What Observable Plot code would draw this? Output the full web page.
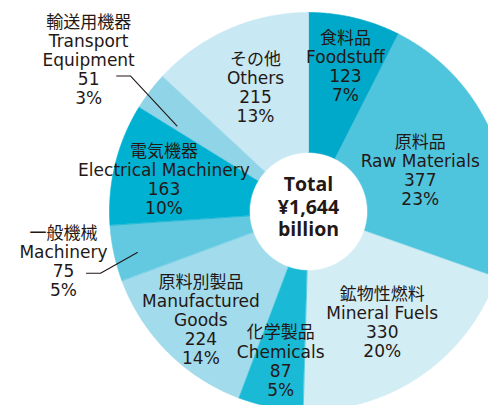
<!DOCTYPE html>
<html>
<head>
<meta charset="utf-8">
<script src="https://cdn.jsdelivr.net/npm/d3@7"></script>
<script src="https://cdn.jsdelivr.net/npm/@observablehq/plot@0.6"></script>
<style>
  html, body { margin: 0; padding: 0; background: #fff; }
  #chart svg { display: block; overflow: hidden; }
</style>
</head>
<body>
<div id="chart"></div>
<script>
// ---- data ----
const categoriesJa = ["食料品", "原料品", "鉱物性燃料", "化学製品", "原料別製品", "一般機械", "電気機器", "輸送用機器", "その他"];
const categoriesEn = ["Foodstuff", "Raw Materials", "Mineral Fuels", "Chemicals", "Manufactured\nGoods", "Machinery", "Electrical Machinery", "Transport\nEquipment", "Others"];
const values = [123, 377, 330, 87, 224, 75, 163, 51, 215];
const percents = [7, 23, 20, 5, 14, 5, 10, 3, 13];
const totalLines = ["Total", "¥1,644", "billion"];

// ---- style / layout ----
const colors = ["#00a9c9", "#4fc5dd", "#d3edf5", "#1ab9d5", "#a2dbeb", "#62c9e0", "#00b1d2", "#90d4e7", "#c8e8f3"];
const outerR = 199, innerR = 59;
const labelR = [150, 119, 133, 152, 153, 250, 148, 267, 135];
const labelDA = [0.8, 1.7, 0.8, -0.6, -0.5, 0.6, -1.5, -2.8, 0.4]; // degrees
// leader lines: index, start radius, start angle shift (deg), elbow/end offsets relative to label (px)
const leaders = [
  {i: 7, r: 157, da: -4.3, ex: 42, ey: 16, tx: 28},
  {i: 5, r: 176, da: -1.4, ex: 37, ey: 12, tx: 23}
];
const textColor = "#231815";
const font = "'DejaVu Sans', 'Noto Sans CJK JP', sans-serif";
const boldFont = "'Open Sans', 'Noto Sans CJK JP', sans-serif";

// ---- build ----
const rows = values.map((v, i) => ({cat: categoriesEn[i], value: v, i}));
const arcs = d3.pie().sort(null).value(d => d.value)(rows);
const pol = (r, a) => ({x: r * Math.sin(a), y: r * Math.cos(a)});

const arcPts = [];
arcs.forEach(p => {
  const a0 = p.startAngle, a1 = p.endAngle;
  const n = Math.max(2, Math.ceil((a1 - a0) / (Math.PI / 360)));
  for (let k = 0; k <= n; k++) arcPts.push({cat: p.data.cat, ...pol(outerR, a0 + (a1 - a0) * k / n)});
  for (let k = n; k >= 0; k--) arcPts.push({cat: p.data.cat, ...pol(innerR, a0 + (a1 - a0) * k / n)});
});

const deg = Math.PI / 180;
const labels = arcs.map((p, i) => {
  const mid = (p.startAngle + p.endAngle) / 2 + labelDA[i] * deg;
  return {...pol(labelR[i], mid), text: `${categoriesJa[i]}\n${categoriesEn[i]}\n${values[i]}\n${percents[i]}%`};
});

const leaderPts = [];
leaders.forEach((L, k) => {
  const p = arcs[L.i];
  const mid = (p.startAngle + p.endAngle) / 2;
  const s = pol(L.r, mid + L.da * deg);
  const lab = labels[L.i];
  leaderPts.push({k, x: s.x, y: s.y});
  leaderPts.push({k, x: lab.x + L.ex, y: lab.y - L.ey});
  leaderPts.push({k, x: lab.x + L.tx, y: lab.y - L.ey});
});

const chart = Plot.plot({
  width: 488,
  height: 405,
  margin: 0,
  x: {domain: [-308, 180], axis: null},
  y: {domain: [-194, 211], axis: null},
  color: {domain: categoriesEn, range: colors},
  style: {background: "#fff", fontFamily: font},
  marks: [
    Plot.line(arcPts, {x: "x", y: "y", z: "cat", fill: "cat", stroke: "cat", strokeWidth: 0.6, curve: "linear-closed"}),
    Plot.line(leaderPts, {x: "x", y: "y", z: "k", stroke: "#231815", strokeWidth: 1.1}),
    Plot.text(labels, {x: "x", y: "y", text: "text", fill: textColor, fontSize: 17, lineHeight: 1.12, fontFamily: font}),
    Plot.text([totalLines.join("\n")], {x: () => 0, y: () => 0, text: d => d, dy: -5, fill: "#231815", fontSize: 19.5, fontWeight: "bold", lineHeight: 1.16, fontFamily: boldFont})
  ]
});
document.getElementById("chart").appendChild(chart);
</script>
</body>
</html>
